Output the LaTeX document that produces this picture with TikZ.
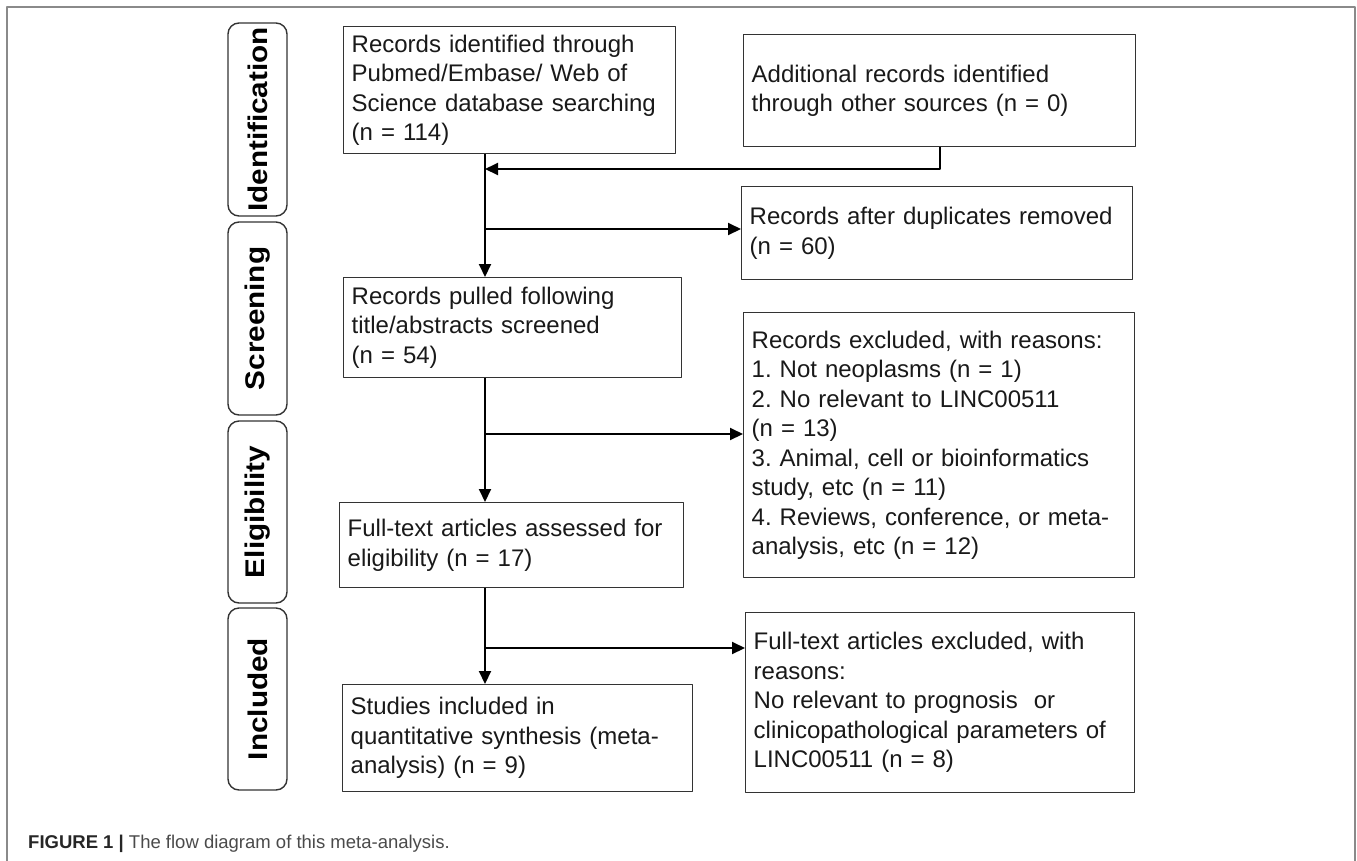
\documentclass[tikz,border=0pt]{standalone}
\usepackage{fontspec}
\setmainfont{Liberation Sans}
\newfontfamily\phasefont[FakeStretch=1.1]{Liberation Sans}
\usetikzlibrary{arrows.meta}
\definecolor{boxline}{HTML}{333333}
\definecolor{frameline}{HTML}{8A8A8A}
\definecolor{captext}{HTML}{4A4A4A}
\frenchspacing
\begin{document}
\begin{tikzpicture}[x=1pt, y=-1pt, line join=round,
		box/.style={draw=boxline, line width=1.4pt, rectangle, anchor=north west, align=left,
			inner xsep=8pt, inner ysep=0pt, text=black!90, font=\fontsize{24}{29.5}\selectfont},
		phase/.style={draw=boxline, line width=1.4pt, rounded corners=11pt, rotate=90,
			minimum height=59pt, inner sep=0pt, font=\phasefont\bfseries\fontsize{27}{30}\selectfont},
		arr/.style={-{Triangle[length=13pt, width=12pt]}, line width=2pt},
		link/.style={line width=2pt}]
	\useasboundingbox (0,0) rectangle (1357,860);
	\draw[frameline, line width=2.2pt] (7,862) -- (7,7) -- (1355,7) -- (1355,862);
	\foreach \name/\ya/\yb/\txt in {ident/23/216/Identification, screen/222/415/Screening,
		elig/421/603/Eligibility, incl/608/790/Included}
	{\node[phase, minimum width={\yb-\ya}] (\name) at (257.5,{(\ya+\yb)/2}) {\txt};}
	\node[box, text width=316pt, minimum height=127pt] (idrec) at (343,26)
		{Records identified through\\Pubmed/Embase/ Web of\\Science database searching\\(n = 114)};
	\node[box, text width=376pt, minimum height=112pt] (other) at (743,34)
		{Additional records identified\\through other sources (n = 0)};
	\node[box, text width=375pt, minimum height=93pt] (dedup) at (741,186)
		{Records after duplicates removed\\(n = 60)};
	\node[box, text width=322pt, minimum height=100pt] (pulled) at (343,277)
		{Records pulled following\\title/abstracts screened\\(n = 54)};
	\node[box, text width=375pt, minimum height=265pt] (excl) at (743,312)
		{Records excluded, with reasons:\\1. Not neoplasms (n = 1)\\2. No relevant to LINC00511\\(n = 13)\\
		3. Animal, cell or bioinformatics\\study, etc (n = 11)\\4. Reviews, conference, or meta-\\analysis, etc (n = 12)};
	\node[box, text width=328pt, minimum height=85pt] (assess) at (339,502)
		{Full-text articles assessed for\\eligibility (n = 17)};
	\node[box, text width=373pt, minimum height=180pt] (ftexcl) at (745,612)
		{Full-text articles excluded, with\\reasons:\\No relevant to prognosis\ \ or\\
		clinicopathological parameters of\\LINC00511 (n = 8)};
	\node[box, text width=334pt, minimum height=107pt] (synth) at (342,684)
		{Studies included in\\quantitative synthesis (meta-\\analysis) (n = 9)};
	\coordinate (trunk) at (485,0);
	\coordinate (m1) at (485,169);
	\coordinate (m2) at (485,229);
	\coordinate (m3) at (485,434);
	\coordinate (m4) at (485,648);
	\draw[arr] (idrec.south -| trunk) -- (pulled.north -| trunk);
	\draw[arr] (other.south) |- (m1);
	\draw[arr] (m2) -- (m2 -| dedup.west);
	\draw[arr] (pulled.south -| trunk) -- (assess.north -| trunk);
	\draw[arr] (m3) -- (m3 -| excl.west);
	\draw[arr] (assess.south -| trunk) -- (synth.north -| trunk);
	\draw[arr] (m4) -- (m4 -| ftexcl.west);
	\node[anchor=base west, inner sep=0pt, font=\fontsize{18.5}{22}\selectfont] (caption) at (28,848)
		{\textbf{\color{black!85}FIGURE 1 |} \color{captext}The flow diagram of this meta-analysis.};
\end{tikzpicture}
\end{document}
